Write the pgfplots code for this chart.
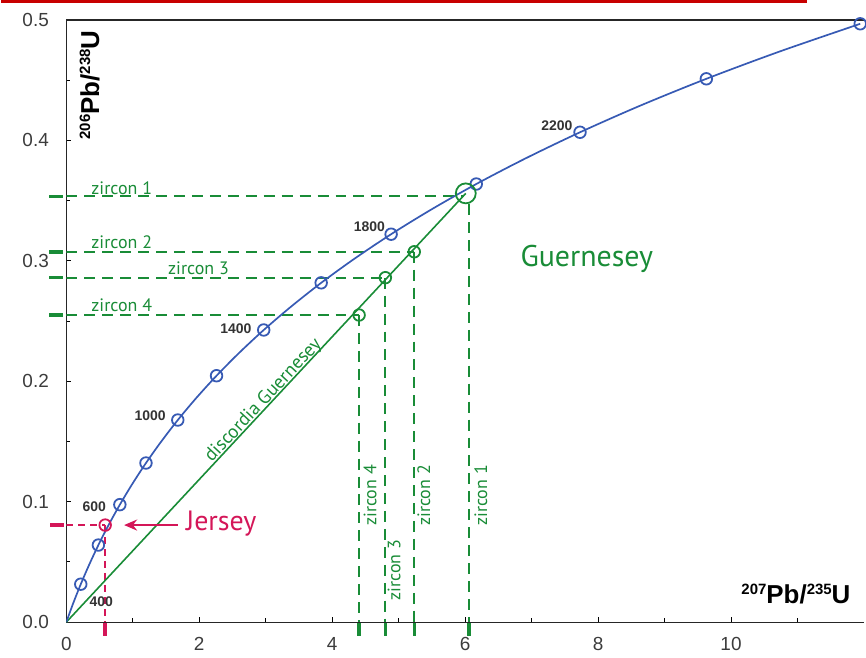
\documentclass[border=0pt]{standalone}
\usepackage{pgfplots}
\pgfplotsset{compat=1.18}
\usepackage{fontspec}
\setmainfont{Liberation Sans}
\newfontfamily\ann{PT Sans}
\usetikzlibrary{arrows.meta}
\definecolor{cblue}{RGB}{55,90,180}
\definecolor{zgreen}{RGB}{25,140,55}
\definecolor{jred}{RGB}{212,22,88}
\definecolor{topred}{RGB}{200,0,0}
\definecolor{ticktext}{RGB}{60,60,60}
\newcommand{\sups}[1]{\raisebox{9pt}{\fontsize{15}{15}\selectfont\bfseries #1}}
\pgfplotsset{zdash/.style={color=zgreen, draw=zgreen, line width=1.8pt, dash pattern=on 11pt off 7pt}}
\begin{document}
\begin{tikzpicture}
\begin{axis}[name=ax, scale only axis, width=800pt, height=604pt,
  xmin=0, xmax=12, ymin=0, ymax=0.5,
  axis x line=box, axis y line=left,
  axis line style={-, line width=1.2pt, black!85},
  y axis line style={-},
  xtick={0,2,4,6,8,10}, minor xtick={1,3,5,7,9,11},
  ytick={0,0.1,0.2,0.3,0.4,0.5}, minor ytick={0.05,0.15,0.25,0.35,0.45},
  xtick pos=left, ytick pos=left, tick align=inside,
  major tick length=5pt, minor tick length=4pt,
  tick style={black, line width=1pt},
  ticklabel style={font=\fontsize{19}{22}\selectfont, text=ticktext, /pgf/number format/assume math mode=true},
  yticklabel style={/pgf/number format/fixed, /pgf/number format/fixed zerofill, /pgf/number format/precision=1, xshift=-14pt},
  xticklabel style={yshift=-12pt},
]
% dashed guide lines (zircons)
\addplot[zdash] coordinates {(0,0.3535) (5.98,0.3535)};
\addplot[zdash] coordinates {(6.058,0.347) (6.058,0)};
\addplot[zdash] coordinates {(0,0.3075) (5.235,0.3075)};
\addplot[zdash] coordinates {(5.235,0.3075) (5.235,0)};
\addplot[zdash] coordinates {(0,0.2860) (4.80,0.2860)};
\addplot[zdash] coordinates {(4.80,0.2860) (4.80,0)};
\addplot[zdash] coordinates {(0,0.2550) (4.405,0.2550)};
\addplot[zdash] coordinates {(4.405,0.2550) (4.405,0)};
% Jersey guide lines
\addplot[color=jred, draw=jred, line width=1.7pt, dash pattern=on 7pt off 5pt] coordinates {(0,0.0806) (0.585,0.0806)};
\addplot[color=jred, draw=jred, line width=1.7pt, dash pattern=on 7pt off 5pt] coordinates {(0.585,0.0806) (0.585,0)};
% discordia
\addplot[color=zgreen, line width=1.6pt] coordinates {(0,0) (6.01,0.356)};
% concordia curve
\addplot[color=cblue, line width=1.7pt, smooth] coordinates {
(0,0) (0.10350,0.015633) (0.21770,0.031511) (0.34375,0.047637) (0.48277,0.064016)
(0.63624,0.080650) (0.80569,0.097544) (0.99256,0.11470) (1.19870,0.13213)
(1.42643,0.14982) (1.67738,0.16782) (1.95460,0.18606) (2.26027,0.20459)
(2.5977,0.22343) (2.9701,0.24257) (3.3811,0.26196) (3.8344,0.28172)
(4.3348,0.30174) (4.8866,0.32210) (5.4958,0.34275) (6.1681,0.36377)
(6.9100,0.38506) (7.7285,0.40674) (8.6320,0.42878) (9.6290,0.45112)
(10.7296,0.47374) (11.944,0.49679)};
\addplot[only marks, mark=o, mark size=5.8pt, mark options={draw=cblue, line width=1.8pt, fill=white}] coordinates {
(0.21770,0.031511) (0.48277,0.064016) (0.80569,0.097544) (1.19870,0.13213)
(1.67738,0.16782) (2.26027,0.20459) (2.9701,0.24257) (3.8344,0.28172)
(4.8866,0.32210) (6.1681,0.36377) (7.7285,0.40674) (9.6290,0.45112) (11.944,0.49679)};
% zircon points
\addplot[only marks, mark=o, mark size=5.8pt, mark options={draw=zgreen, line width=1.8pt}] coordinates {
(5.235,0.3075) (4.80,0.2860) (4.405,0.2550)};
\addplot[only marks, mark=o, mark size=10pt, mark options={draw=zgreen, line width=1.8pt}] coordinates {(6.01,0.356)};
% Jersey point
\addplot[only marks, mark=o, mark size=5.8pt, mark options={draw=jred, line width=1.8pt}] coordinates {(0.585,0.0806)};
% Jersey arrow
\addplot[color=jred, line width=2.2pt, -{Stealth[length=13pt, width=11pt]}] coordinates {(1.68,0.0806) (0.87,0.0806)};
% age labels
\begin{scope}[every node/.style={font=\bfseries\fontsize{14}{16}\selectfont, text=black!80, inner sep=0pt}]
\node at (axis cs:0.525,0.0166) {400};
\node at (axis cs:0.42,0.0961) {600};
\node at (axis cs:1.26,0.1715) {1000};
\node at (axis cs:2.55,0.2436) {1400};
\node at (axis cs:4.56,0.328) {1800};
\node at (axis cs:7.38,0.4126) {2200};
\end{scope}
% zircon labels
\begin{scope}[every node/.style={font=\ann\fontsize{18}{20}\selectfont, text=zgreen, inner sep=0pt}]
\node[anchor=base west] at (axis cs:0.375,0.3554) {zircon 1};
\node[anchor=base west] at (axis cs:0.375,0.3099) {zircon 2};
\node[anchor=base west] at (axis cs:1.53,0.2883) {zircon 3};
\node[anchor=base west] at (axis cs:0.375,0.2577) {zircon 4};
\node[anchor=base, rotate=90] at (axis cs:4.665,0.1052) {zircon 4};
\node[anchor=base, rotate=90] at (axis cs:5.025,0.0431) {zircon 3};
\node[anchor=base, rotate=90] at (axis cs:5.475,0.1052) {zircon 2};
\node[anchor=base, rotate=90] at (axis cs:6.33,0.1052) {zircon 1};
\node[anchor=base, rotate=47, font=\ann\fontsize{19}{21}\selectfont] at (axis cs:3.02,0.1812) {discordia Guernesey};
\end{scope}
\node[anchor=base, font=\ann\fontsize{30}{32}\selectfont, text=zgreen, inner sep=0pt] at (axis cs:7.83,0.295) {Guernesey};
\node[anchor=base west, font=\ann\fontsize{28}{30}\selectfont, text=jred, inner sep=0pt] at (axis cs:1.80,0.0762) {Jersey};
% axis titles
\node[anchor=base east, font=\fontsize{26}{28}\selectfont\bfseries, inner sep=0pt] at (axis cs:11.80,0.0157) {\sups{207}Pb/\sups{235}U};
\node[anchor=base east, rotate=90, font=\fontsize{26}{28}\selectfont\bfseries, inner sep=0pt] at (axis cs:0.495,0.4915) {\sups{206}Pb/\sups{238}U};
% coordinates for outside marks
\coordinate (h1) at (axis cs:0,0.3535);
\coordinate (h2) at (axis cs:0,0.3075);
\coordinate (h3) at (axis cs:0,0.2860);
\coordinate (h4) at (axis cs:0,0.2550);
\coordinate (v1) at (axis cs:6.058,0);
\coordinate (v2) at (axis cs:5.235,0);
\coordinate (v3) at (axis cs:4.80,0);
\coordinate (v4) at (axis cs:4.405,0);
\coordinate (hr) at (axis cs:0,0.0806);
\coordinate (vr) at (axis cs:0.585,0);
\end{axis}
\foreach \c in {h1,h2,h3,h4} {\draw[zgreen, line width=3.5pt] ([xshift=-17pt]\c) -- ([xshift=-3pt]\c);}
\foreach \c in {v1,v2,v3,v4} {\draw[zgreen, line width=3.5pt] ([yshift=-1pt]\c) -- ([yshift=-14pt]\c);}
\draw[jred, line width=3.5pt] ([xshift=-16pt]hr) -- ([xshift=-2pt]hr);
\draw[jred, line width=3.5pt] ([yshift=-1pt]vr) -- ([yshift=-14pt]vr);
\draw[topred, line width=3pt] ([shift={(-65pt,18.5pt)}]ax.north west) -- ++(808pt,0);
\path ([shift={(-65pt,-35pt)}]ax.south west) rectangle ([shift={(1pt,20pt)}]ax.north east);
\end{tikzpicture}
\end{document}
